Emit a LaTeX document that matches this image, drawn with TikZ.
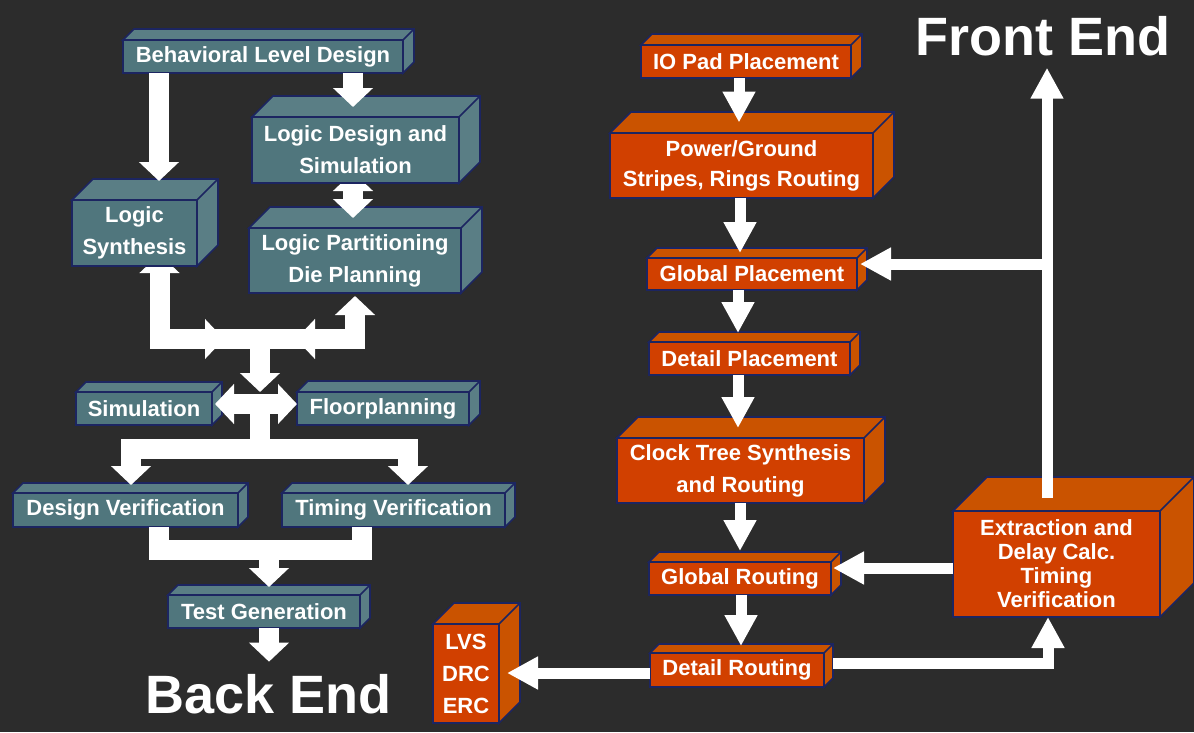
\documentclass[tikz,border=0pt]{standalone}
\usepackage{fontspec}
\setmainfont{Liberation Sans}
\usetikzlibrary{arrows.meta,calc,positioning}
\definecolor{bgdark}{HTML}{2C2C2C}
\definecolor{tealfront}{HTML}{50767D}
\definecolor{tealside}{HTML}{5A7E85}
\definecolor{orgfront}{HTML}{D14000}
\definecolor{orgside}{HTML}{CA5300}
\definecolor{edgenavy}{HTML}{1C2561}
\pgfdeclarelayer{back}
\pgfsetlayers{back,main}
\tikzset{
  stage/.style     = {draw=edgenavy, line width=1.6pt, inner sep=0pt, outer sep=0pt,
                      align=center, text=white, font=\fontsize{22}{32}\selectfont\bfseries},
  tealbox/.style   = {stage, fill=tealfront},
  orgbox/.style    = {stage, fill=orgfront},
  bigtitle/.style  = {text=white, inner sep=0pt, font=\fontsize{54}{60}\selectfont\bfseries},
  fatarrow/.style  = {draw=white, line width=20pt, -{Triangle[width=39pt,length=19pt]}},
  fatbar/.style    = {draw=white, line width=20pt},
  thinarrow/.style = {draw=white, line width=11pt, -{Triangle[width=31pt,length=31pt]}},
}

\begin{document}
\begin{tikzpicture}[x=1pt, y=-1pt]
\useasboundingbox (0,0) rectangle (1194,732);
\begin{pgfonlayer}{back}
  \fill[bgdark] (0,0) rectangle (1194,732);
\end{pgfonlayer}
% ---------------- left flow ----------------
\node[tealbox, minimum width=280pt, minimum height=33pt] (bld) at (263,56.5) {Behavioral Level Design};
\node[tealbox, minimum width=207pt, minimum height=66pt] (lds) at (355.5,150) {Logic Design and\\Simulation};
\node[tealbox, minimum width=125pt, minimum height=66pt] (ls) at (134.5,233) {Logic\\Synthesis};
\node[tealbox, minimum width=212pt, minimum height=65pt] (ldp) at (355,260.5) {Logic Partitioning\\Die Planning};
\node[tealbox, minimum width=136pt, minimum height=33pt] (sim) at (144,408.5) {Simulation};
\node[tealbox, minimum width=172pt, minimum height=33pt] (flp) at (383,408.5) {Floorplanning};
\node[tealbox, minimum width=225pt, minimum height=34pt] (dv) at (125.5,510) {Design Verification};
\node[tealbox, minimum width=223pt, minimum height=34pt] (tv) at (393.5,510) {Timing Verification};
\node[tealbox, minimum width=192pt, minimum height=33pt] (tg) at (264,611.5) {Test Generation};
% ---------------- right flow ----------------
\node[orgbox, minimum width=210pt, minimum height=33pt] (iop) at (746,61.5) {IO Pad Placement};
\node[orgbox, minimum width=263pt, minimum height=65pt,
      font=\fontsize{22}{30}\selectfont\bfseries] (pg) at (741.5,165.5) {Power/Ground\\Stripes, Rings Routing};
\node[orgbox, minimum width=210pt, minimum height=32pt] (gp) at (752,274) {Global Placement};
\node[orgbox, minimum width=201pt, minimum height=33pt] (dp) at (749.5,358.5) {Detail Placement};
\node[orgbox, minimum width=247pt, minimum height=65pt] (cts) at (740.5,470.5) {Clock Tree Synthesis\\and Routing};
\node[orgbox, minimum width=182pt, minimum height=33pt] (gr) at (740,578.5) {Global Routing};
\node[orgbox, minimum width=174pt, minimum height=34pt] (dr) at (737,670) {Detail Routing};
\node[orgbox, minimum width=66pt, minimum height=99pt] (lvs) at (466,673.5) {LVS\\DRC\\ERC};
\node[orgbox, minimum width=207pt, minimum height=106pt,
      font=\fontsize{22}{24}\selectfont\bfseries] (ext) at (1056.5,564) {Extraction and\\Delay Calc.\\Timing\\Verification};
% ---------------- top and side faces ----------------
\foreach \nm/\dd/\col in {bld/11/tealside, lds/21/tealside, ls/21/tealside, ldp/21/tealside,
    sim/10/tealside, flp/11/tealside, dv/10/tealside, tv/10/tealside, tg/10/tealside,
    iop/11/orgside, pg/21/orgside, gp/10/orgside, dp/10/orgside, cts/21/orgside,
    gr/10/orgside, dr/9/orgside, lvs/21/orgside, ext/34/orgside}{
  \filldraw[fill=\col, draw=edgenavy, line width=1.6pt]
    (\nm.north west) -- ++(\dd,-\dd) -- ($(\nm.north east)+(\dd,-\dd)$)
    -- ($(\nm.south east)+(\dd,-\dd)$) -- (\nm.south east) -- (\nm.north east) -- cycle;
  \draw[edgenavy, line width=1.6pt] (\nm.north east) -- ++(\dd,-\dd);}
% titles
\node[bigtitle, anchor=base] (frontend) at (1043,55) {Front End};
\node[bigtitle, anchor=base] (backend) at (269,713) {Back End};
% ---------------- arrows, left ----------------
\coordinate (jsyn) at (260,339);
\coordinate (jsim) at (260,404);
\coordinate (jspl) at (260,449);
\coordinate (jmrg) at (269,550);
\draw[fatarrow] ($(bld.south)+(-104,0)$) -- ($(ls.north)+(24.5,-19)$);
\draw[fatarrow] ($(bld.south)+(90,0)$) -- ($(lds.north)+(-2.5,-10)$);
\begin{pgfonlayer}{back}
  \draw[fatarrow] ($(lds.south)+(-2.5,12)$) -- ($(lds.south)+(-2.5,-11)$);
  \draw[fatarrow] (jsyn) -| ($(ls.south)+(25,-12)$);
\end{pgfonlayer}
\draw[fatarrow] ($(lds.south)+(-2.5,12)$) -- ($(ldp.north)+(-2,-10)$);
\draw[fatarrow] (jsyn) -| ($(ldp.south)+(0,3)$);
\draw[fatarrow] ($(ls.south)+(25,7)$) |- ($(jsyn)+(-36,0)$);
\draw[fatarrow] ($(ldp.south)+(0,22)$) |- ($(jsyn)+(36,0)$);
\draw[fatarrow] (jsyn) -- ($(jsim)+(0,-12)$);
\draw[fatarrow] (jsim) -- ($(sim.east |- jsim)+(3,0)$);
\draw[fatarrow] (jsim) -- (flp.west |- jsim);
\draw[fatbar] (jsim) -- (jspl);
\draw[fatarrow] (jspl) -| ($(dv.north)+(5.5,-8)$);
\draw[fatarrow] (jspl) -| ($(tv.north)+(14.5,-8)$);
\draw[fatbar] ($(dv.south)+(33.5,0)$) |- (jmrg);
\draw[fatbar] ($(tv.south)+(-31.5,0)$) |- (jmrg);
\draw[fatarrow] (jmrg) -- ($(tg.north)+(5,-8)$);
\draw[fatarrow] ($(tg.south)+(5,0)$) -- ($(backend.north)+(0,-12)$);
% ---------------- arrows, right ----------------
\coordinate (jfb) at (1047,264);
\draw[thinarrow] ($(iop.south)+(-7,0)$) -- ($(pg.north)+(-2.5,-10.5)$);
\draw[thinarrow] ($(pg.south)+(-1.5,0)$) -- ($(gp.north)+(-12,-5)$);
\draw[thinarrow] ($(gp.south)+(-14,0)$) -- ($(dp.north)+(-11.5,-9)$);
\draw[thinarrow] ($(dp.south)+(-11.5,0)$) -- ($(cts.north)+(-2.5,-10)$);
\draw[thinarrow] ($(cts.south)+(-0.5,0)$) -- ($(gr.north)+(0,-11)$);
\draw[thinarrow] ($(gr.south)+(1,0)$) -- ($(dr.north)+(4,-7)$);
\draw[thinarrow] ($(dr.west)+(0,3)$) -- ($(lvs.east)+(8,-0.5)$);
\draw[thinarrow] ($(dr.east)+(9,-7)$) -| ($(ext.south)+(-8.5,0)$);
\draw[thinarrow] ($(ext.west)+(0,4)$) -- ($(gr.east)+(2,-10.5)$);
\draw[thinarrow] ($(ext.north)+(-9.5,-13)$) -- ($(frontend.south)+(4,12)$);
\draw[thinarrow] (jfb) -- ($(gp.east)+(3,-10)$);
\end{tikzpicture}
\end{document}
